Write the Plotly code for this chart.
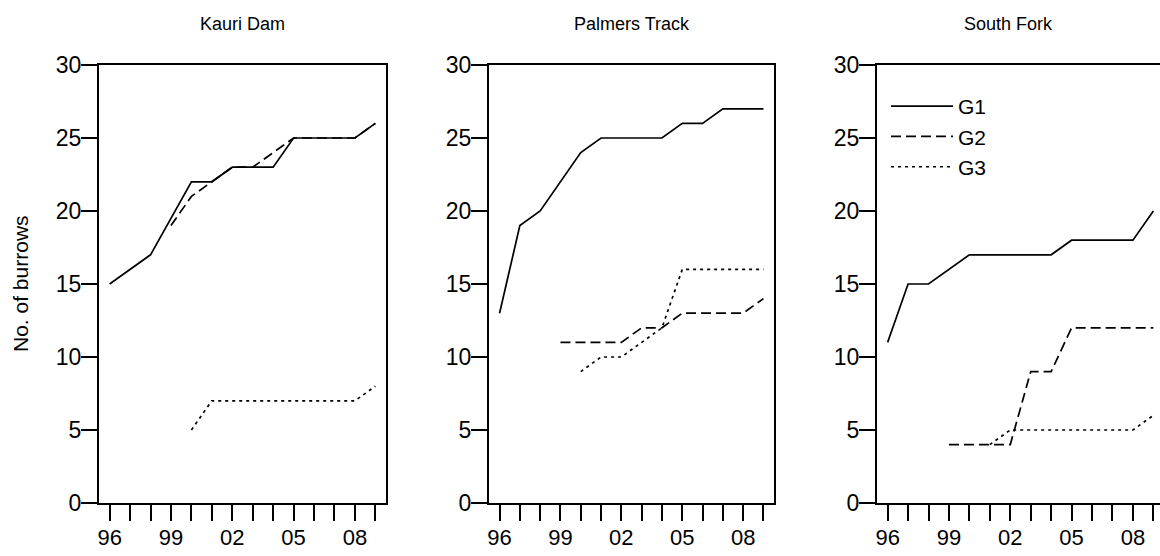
import plotly.graph_objects as go

years = [1996, 1997, 1998, 1999, 2000, 2001, 2002, 2003, 2004, 2005, 2006, 2007, 2008, 2009]
tick_years = [1996, 1999, 2002, 2005, 2008]
tick_labels = ["96", "99", "02", "05", "08"]
y_ticks = [0, 5, 10, 15, 20, 25, 30]

sites = ["Kauri Dam", "Palmers Track", "South Fork"]
groups = ["G1", "G2", "G3"]

kauri_g1 = [15, 16, 17, 19.5, 22, 22, 23, 23, 23, 25, 25, 25, 25, 26]
kauri_g2 = [None, None, None, 19, 21, 22, 23, 23, 24, 25, 25, 25, 25, 26]
kauri_g3 = [None, None, None, None, 5, 7, 7, 7, 7, 7, 7, 7, 7, 8]

palmers_g1 = [13, 19, 20, 22, 24, 25, 25, 25, 25, 26, 26, 27, 27, 27]
palmers_g2 = [None, None, None, 11, 11, 11, 11, 12, 12, 13, 13, 13, 13, 14]
palmers_g3 = [None, None, None, None, 9, 10, 10, 11, 12, 16, 16, 16, 16, 16]

south_g1 = [11, 15, 15, 16, 17, 17, 17, 17, 17, 18, 18, 18, 18, 20]
south_g2 = [None, None, None, 4, 4, 4, 4, 9, 9, 12, 12, 12, 12, 12]
south_g3 = [None, None, None, None, None, 4, 5, 5, 5, 5, 5, 5, 5, 6]

site_data = [
    [kauri_g1, kauri_g2, kauri_g3],
    [palmers_g1, palmers_g2, palmers_g3],
    [south_g1, south_g2, south_g3],
]

FONT = "Liberation Sans, Arial, Helvetica, sans-serif"
W, H = 1160, 556
dashes = {"G1": "solid", "G2": "10px,5px", "G3": "3px,4px"}

# panel pixel geometry
panels_px = [(99, 386), (489, 774), (877, 1160)]
top_px, bottom_px = 65, 503
xr = [1995.48, 2009.52]
px_per_year = (386 - 99) / (xr[1] - xr[0])

fig = go.Figure()

for i, (site, series) in enumerate(zip(sites, site_data)):
    sfx = "" if i == 0 else str(i + 1)
    for g, vals in zip(groups, series):
        fig.add_trace(go.Scatter(
            x=years, y=vals, mode="lines", name=g,
            line=dict(color="black", width=1.7, dash=dashes[g]),
            xaxis="x" + sfx, yaxis="y" + sfx,
            showlegend=(i == 2), legendgroup=g,
            connectgaps=False,
        ))

layout = dict(
    width=W, height=H,
    margin=dict(l=0, r=0, t=0, b=0, pad=0, autoexpand=False),
    paper_bgcolor="white", plot_bgcolor="white",
    font=dict(family=FONT, size=22, color="black"),
    showlegend=True,
    legend=dict(
        x=(886) / W, y=(556 - 86) / H, xanchor="left", yanchor="top",
        bgcolor="rgba(0,0,0,0)", borderwidth=0,
        font=dict(size=21), tracegroupgap=0, itemwidth=62,
        traceorder="grouped",
    ),
)

for i, (x0, x1) in enumerate(panels_px):
    sfx = "" if i == 0 else str(i + 1)
    rng = list(xr)
    if i == 2:
        rng = [xr[0], xr[0] + (x1 - x0) / px_per_year]
    layout["xaxis" + sfx] = dict(
        domain=[x0 / W, x1 / W], range=rng, anchor="y" + sfx,
        showline=True, linecolor="black", linewidth=2, mirror=True,
        showgrid=False, zeroline=False, automargin=False,
        tickmode="array", tickvals=tick_years, ticktext=tick_labels,
        ticks="outside", ticklen=16, tickwidth=2, tickcolor="black",
        minor=dict(tickmode="array", tickvals=years, ticks="outside",
                   ticklen=16, tickwidth=2, tickcolor="black", showgrid=False),
        tickfont=dict(size=22), ticklabelstandoff=-2,
    )
    layout["yaxis" + sfx] = dict(
        domain=[(H - bottom_px) / H, (H - top_px) / H], range=[0, 30],
        anchor="x" + sfx,
        showline=True, linecolor="black", linewidth=2, mirror=(i != 2),
        showgrid=False, zeroline=False, automargin=False,
        tickmode="array", tickvals=y_ticks,
        ticks="outside", ticklen=16, tickwidth=2, tickcolor="black",
        tickfont=dict(size=23), ticklabelstandoff=-5,
    )

fig.update_layout(**layout)

# panel titles
title_x = [242.5, 631.5, 1008]
for site, tx in zip(sites, title_x):
    fig.add_annotation(text=site, x=tx / W, y=(556 - 24) / H, xref="paper", yref="paper",
                       xanchor="center", yanchor="middle", showarrow=False,
                       font=dict(size=18, family=FONT, color="black"))

fig.add_annotation(text="No. of burrows", x=21 / W, y=(556 - 284) / H, xref="paper", yref="paper",
                   xanchor="center", yanchor="middle", textangle=-90, showarrow=False,
                   font=dict(size=21, family=FONT, color="black"))

fig.write_html("out.html")
